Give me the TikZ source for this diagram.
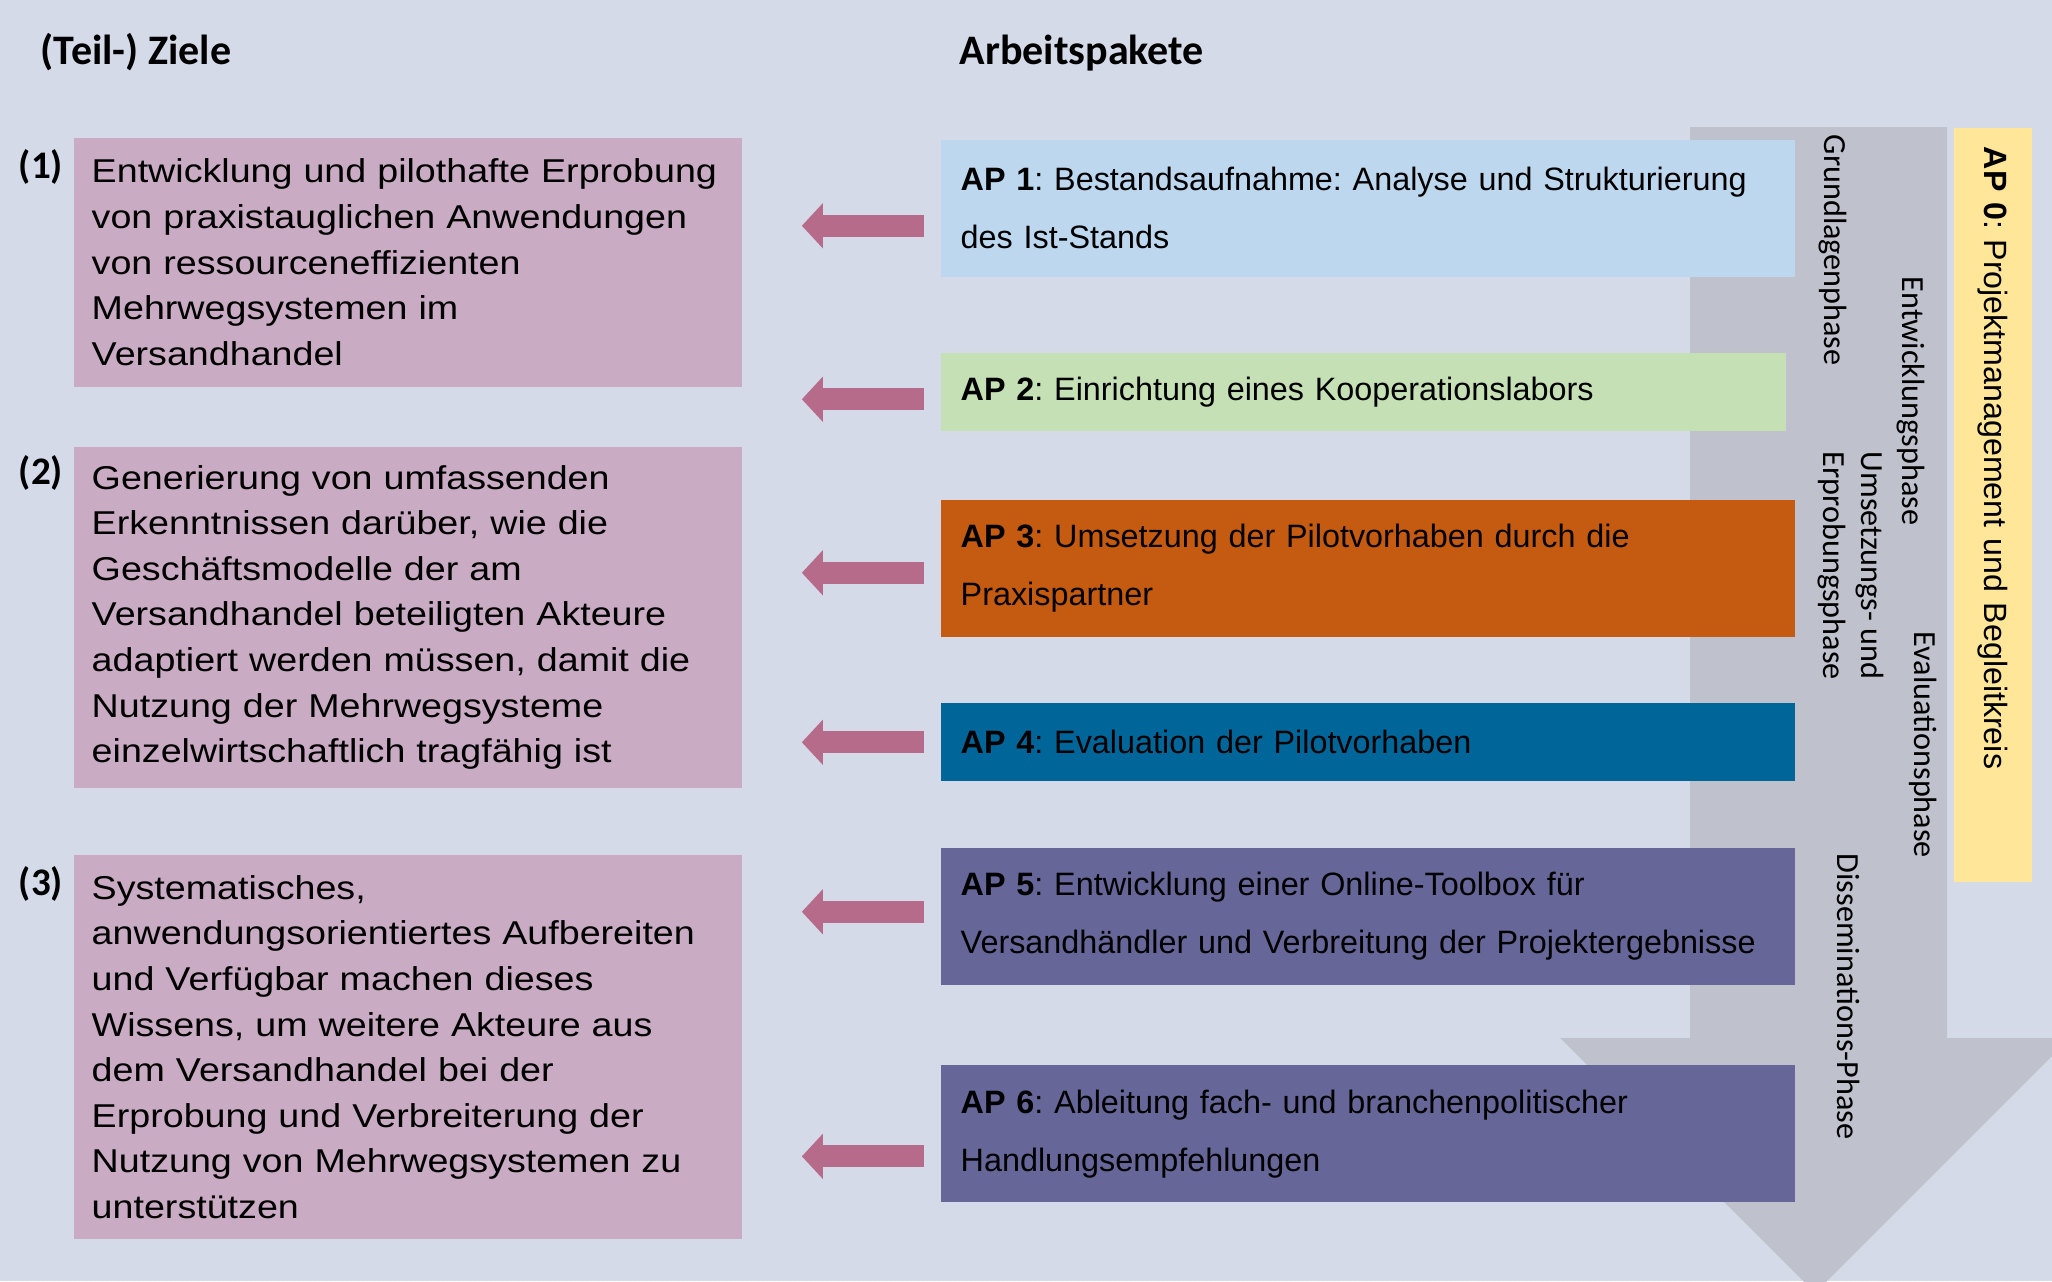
\documentclass[tikz,border=0pt]{standalone}
\usepackage{fontspec}
\setmainfont{Liberation Sans}
\newfontfamily\calibri{Carlito}
\newfontfamily\widesans[FakeStretch=1.14]{Liberation Sans}
\usetikzlibrary{arrows.meta,positioning}
\frenchspacing

\definecolor{bgblue}{HTML}{D5DAE8}
\definecolor{bandgrey}{HTML}{BFC2CC}
\definecolor{goalpink}{HTML}{C9ABC3}
\definecolor{arrowpink}{HTML}{B76B8A}
\definecolor{apblue}{HTML}{BDD7EE}
\definecolor{apgreen}{HTML}{C5E0B4}
\definecolor{aporange}{HTML}{C55A11}
\definecolor{apteal}{HTML}{006699}
\definecolor{appurple}{HTML}{666699}
\definecolor{apyellow}{HTML}{FFE699}

\begin{document}
\begin{tikzpicture}[x=0.01cm,y=-0.01cm,
goal/.style={fill=goalpink,minimum width=6.68cm,inner xsep=0.18cm,
    text width=6.32cm,align=left,font=\widesans\fontsize{9.39}{12.97}\selectfont},
ap/.style={fill=#1,minimum width=8.54cm,inner xsep=0.2cm,text width=8.14cm,
    align=left,anchor=north west,font=\fontsize{9.2}{16.5}\selectfont},
phase/.style={rotate=-90,anchor=west,inner sep=0pt,align=left,
    font=\calibri\fontsize{9.16}{10.81}\selectfont},
heading/.style={anchor=base west,inner sep=0pt,
    font=\calibri\bfseries\fontsize{11.95}{14}\selectfont},
num/.style={inner sep=0pt,font=\calibri\bfseries\fontsize{11.1}{13}\selectfont},
goalarrow/.style={arrowpink,line width=0.22cm,
    -{Triangle[length=0.21cm,width=0.44cm]},shorten <=0.16cm,shorten >=0.59cm}
    ]
\useasboundingbox (0,0) rectangle (2052,1281);
\fill[bgblue] (0,0) rectangle (2052,1281);
\begin{scope}
\clip (0,0) rectangle (2052,1281);
\fill[bandgrey] (1690,127) -- (1947,127) -- (1947,1038) -- (2070,1038)
    -- (1815,1293) -- (1560,1038) -- (1690,1038) -- cycle;
\end{scope}

\node[heading] (ziele) at (40,64) {(Teil-) Ziele};
\node[heading] (pakete) at (959,64) {Arbeitspakete};

\node[goal,minimum height=2.49cm,anchor=north west] (goal1) at (73,137)
    {Entwicklung und pilothafte Erprobung\\von praxistauglichen Anwendungen\\von ressourceneffizienten\\Mehrwegsystemen im\\Versandhandel};
\node[goal,minimum height=3.40cm,below=0.59cm of goal1] (goal2)
    {Generierung von umfassenden\\Erkenntnissen darüber, wie die\\Geschäftsmodelle der am\\Versandhandel beteiligten Akteure\\adaptiert werden müssen, damit die\\Nutzung der Mehrwegsysteme\\einzelwirtschaftlich tragfähig ist};
\node[goal,minimum height=3.84cm,below=0.66cm of goal2] (goal3)
    {Systematisches,\\anwendungsorientiertes Aufbereiten\\und Verfügbar machen dieses\\Wissens, um weitere Akteure aus\\dem Versandhandel bei der\\Erprobung und Verbreiterung der\\Nutzung von Mehrwegsystemen zu\\unterstützen};

\node[num] (num1) at ([xshift=-0.32cm,yshift=-0.30cm]goal1.north west) {(1)};
\node[num] (num2) at ([xshift=-0.32cm,yshift=-0.26cm]goal2.north west) {(2)};
\node[num] (num3) at ([xshift=-0.32cm,yshift=-0.30cm]goal3.north west) {(3)};

\node[ap=apblue,minimum height=1.37cm] (ap1) at (940,139)
    {\textbf{AP 1}: Bestandsaufnahme: Analyse und Strukturierung\\des Ist-Stands};
\node[ap=apgreen,minimum width=8.45cm,text width=8.05cm,minimum height=0.78cm,
    below=0.75cm of ap1.south west,anchor=north west] (ap2)
    {\textbf{AP 2}: Einrichtung eines Kooperationslabors};
\node[ap=aporange,minimum height=1.37cm,below=0.67cm of ap2.south west,anchor=north west] (ap3)
    {\textbf{AP 3}: Umsetzung der Pilotvorhaben durch die\\Praxispartner};
\node[ap=apteal,minimum height=0.78cm,below=0.65cm of ap3.south west,anchor=north west] (ap4)
    {\textbf{AP 4}: Evaluation der Pilotvorhaben};
\node[ap=appurple,minimum height=1.37cm,below=0.65cm of ap4.south west,anchor=north west] (ap5)
    {\textbf{AP 5}: Entwicklung einer Online-Toolbox für\\Versandhändler und Verbreitung der Projektergebnisse};
\node[ap=appurple,minimum height=1.37cm,below=0.79cm of ap5.south west,anchor=north west] (ap6)
    {\textbf{AP 6}: Ableitung fach- und branchenpolitischer\\Handlungsempfehlungen};

\node[fill=apyellow,rotate=-90,minimum width=7.54cm,minimum height=0.78cm,
    inner xsep=0.19cm,text width=7.16cm,align=left,
    font=\fontsize{9.15}{11}\selectfont] (ap0) at (1993,505)
    {\textbf{AP 0}: Projektmanagement und Begleitkreis};

\node[phase] (grundlagen) at (1833,134) {Grundlagenphase};
\node[phase] (entwicklung) at (1911,276) {Entwicklungsphase};
\node[phase] (umsetzung) at (1851,451) {Umsetzungs- und\\Erprobungsphase};
\node[phase] (evaluation) at (1923,631) {Evaluationsphase};
\node[phase] (dissemination) at (1849,853) {Disseminations-Phase};

\draw[goalarrow] ([yshift=-0.175cm]ap1.west) -- ([yshift=-0.175cm]ap1.west -| goal1.east);
\draw[goalarrow] ([yshift=-0.07cm]ap2.west) -- ([yshift=-0.07cm]ap2.west -| goal1.east);
\draw[goalarrow] ([yshift=-0.045cm]ap3.west) -- ([yshift=-0.045cm]ap3.west -| goal2.east);
\draw[goalarrow] (ap4.west) -- (ap4.west -| goal2.east);
\draw[goalarrow] ([yshift=0.045cm]ap5.west) -- ([yshift=0.045cm]ap5.west -| goal3.east);
\draw[goalarrow] ([yshift=-0.225cm]ap6.west) -- ([yshift=-0.225cm]ap6.west -| goal3.east);
\end{tikzpicture}
\end{document}
